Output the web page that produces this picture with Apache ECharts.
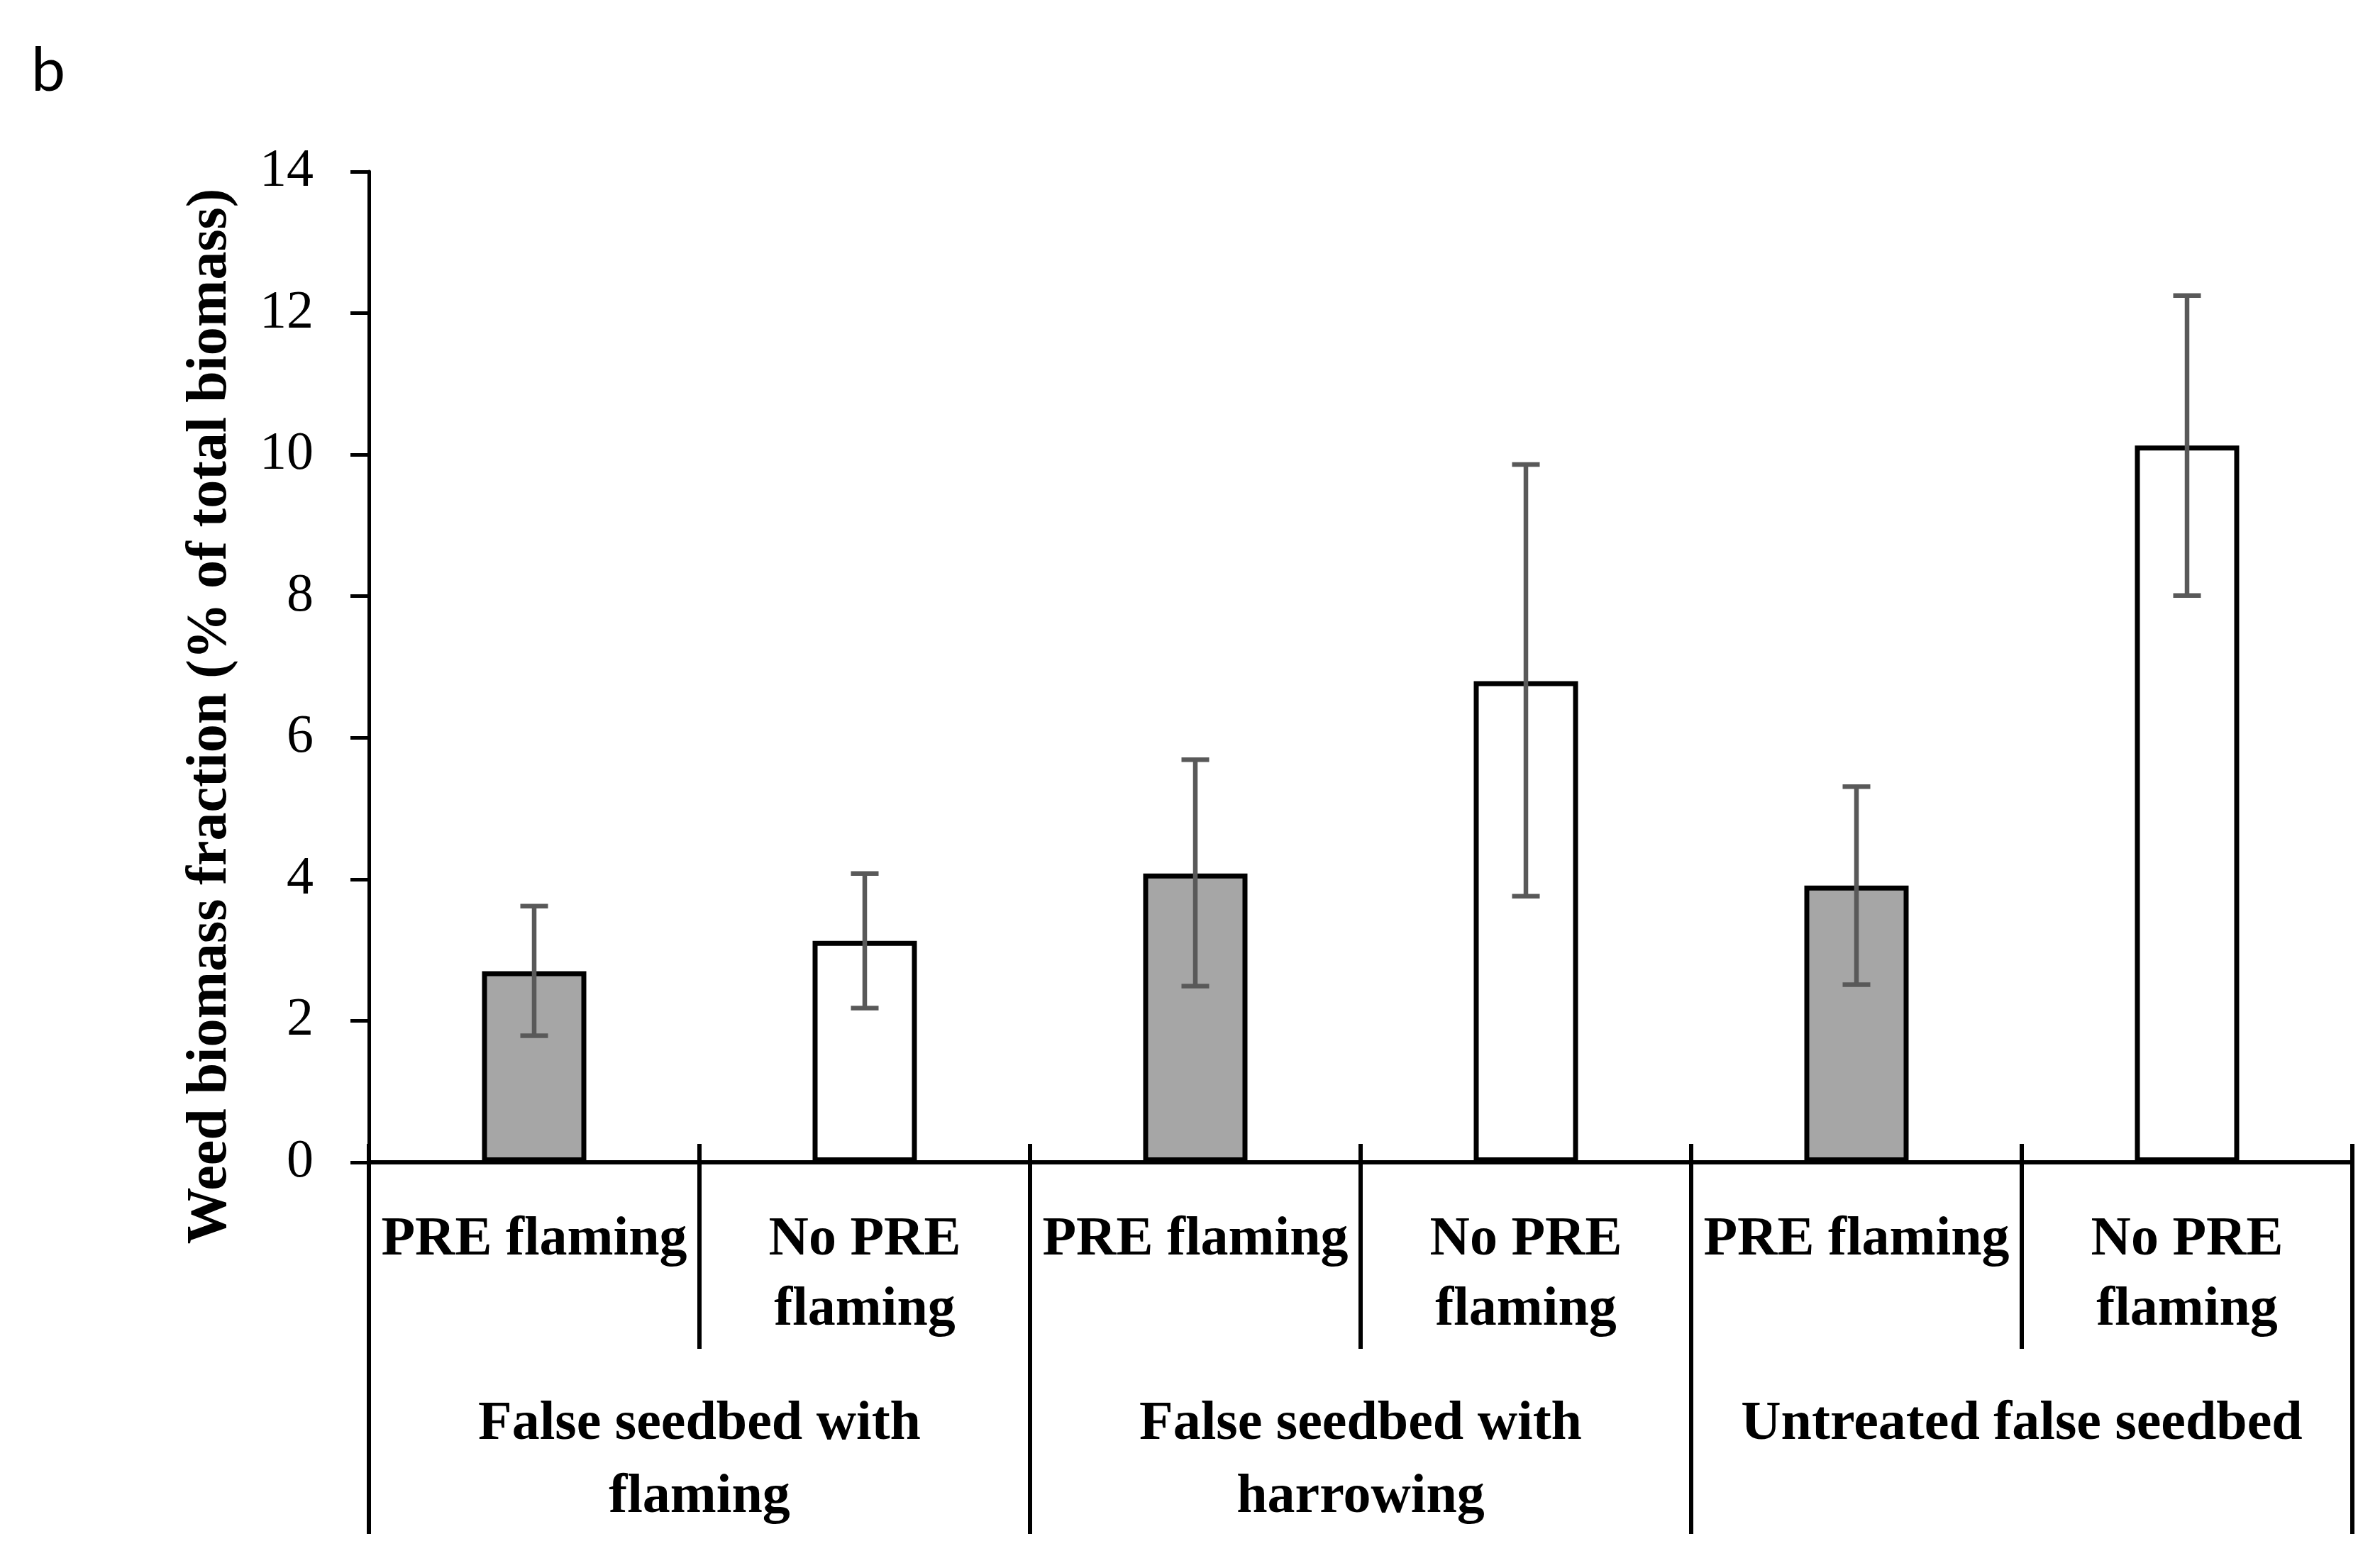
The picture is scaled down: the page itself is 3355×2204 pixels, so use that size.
<!DOCTYPE html>
<html>
<head>
<meta charset="utf-8">
<script src="https://cdn.jsdelivr.net/npm/echarts@6/dist/echarts.min.js"></script>
<style>
html,body{margin:0;padding:0;background:#fff;}
#chart{width:3355px;height:2204px;}
</style>
</head>
<body>
<div id="chart"></div>
<script>
// ---- data ----
var treatments = ['PRE flaming', 'No PRE\nflaming', 'PRE flaming', 'No PRE\nflaming', 'PRE flaming', 'No PRE\nflaming'];
var groups = ['False seedbed with\nflaming', 'False seedbed with\nharrowing', 'Untreated false seedbed'];
var meanValues = [2.70, 3.13, 4.08, 6.80, 3.91, 10.13];
var errHigh = [3.62, 4.08, 5.69, 9.86, 5.31, 12.25];
var errLow = [1.79, 2.18, 2.49, 3.76, 2.51, 8.01];
var isPre = [true, false, true, false, true, false];
var yTicks = [0, 2, 4, 6, 8, 10, 12, 14];
var yTitle = 'Weed biomass fraction (% of total biomass)';
var panelLabel = 'b';

var serif = 'Liberation Serif';
var chart = echarts.init(document.getElementById('chart'), null, {renderer: 'canvas'});

var barData = meanValues.map(function (v, i) {
  return {
    value: v,
    itemStyle: {color: isPre[i] ? '#a6a6a6' : '#ffffff', borderColor: '#000', borderWidth: 7}
  };
});
var errData = meanValues.map(function (v, i) { return [i, errLow[i], errHigh[i]]; });

var option = {
  backgroundColor: '#ffffff',
  animation: false,
  grid: {left: 520, right: 39, top: 242, bottom: 565, containLabel: false},
  xAxis: [
    {
      type: 'category', data: treatments, position: 'bottom',
      axisLine: {show: true, lineStyle: {color: '#000', width: 6}},
      axisTick: {show: true, alignWithLabel: false, inside: false, length: 263, lineStyle: {color: '#000', width: 6}},
      axisLabel: {interval: 0, margin: 60, color: '#000', fontFamily: serif, fontWeight: 'bold', fontSize: 78, lineHeight: 99, align: 'center'},
      splitLine: {show: false}
    },
    {
      type: 'category', data: groups, position: 'bottom',
      axisLine: {show: false},
      axisTick: {show: true, alignWithLabel: false, inside: false, length: 524, lineStyle: {color: '#000', width: 6}},
      axisLabel: {interval: 0, margin: 318, color: '#000', fontFamily: serif, fontWeight: 'bold', fontSize: 78, lineHeight: 103, align: 'center'},
      splitLine: {show: false}
    },
    {
      type: 'category', data: treatments, position: 'bottom',
      axisLine: {show: false},
      axisTick: {show: true, alignWithLabel: false, inside: true, length: 26, lineStyle: {color: '#000', width: 6}},
      axisLabel: {show: false},
      splitLine: {show: false}
    }
  ],
  yAxis: {
    type: 'value', min: yTicks[0], max: yTicks[yTicks.length - 1], interval: 2,
    axisLine: {show: true, lineStyle: {color: '#000', width: 5}},
    axisTick: {show: true, inside: false, length: 26, lineStyle: {color: '#000', width: 5}},
    axisLabel: {margin: 78, color: '#000', fontFamily: serif, fontSize: 76},
    splitLine: {show: false}
  },
  series: [
    {
      type: 'bar', xAxisIndex: 0, data: barData, barWidth: 147, z: 2
    },
    {
      type: 'custom', xAxisIndex: 0, data: errData, z: 5,
      renderItem: function (params, api) {
        var x = api.value(0);
        var lo = api.coord([x, api.value(1)]);
        var hi = api.coord([x, api.value(2)]);
        var hw = 19.5;
        var st = {stroke: '#595959', lineWidth: 6.5};
        return {
          type: 'group',
          children: [
            {type: 'line', shape: {x1: lo[0], y1: lo[1], x2: hi[0], y2: hi[1]}, style: st},
            {type: 'line', shape: {x1: hi[0] - hw, y1: hi[1], x2: hi[0] + hw, y2: hi[1]}, style: st},
            {type: 'line', shape: {x1: lo[0] - hw, y1: lo[1], x2: lo[0] + hw, y2: lo[1]}, style: st}
          ]
        };
      }
    }
  ],
  graphic: [
    {
      type: 'text', x: 297, y: 1010, rotation: Math.PI / 2,
      style: {text: yTitle, fill: '#000', font: 'bold 80px "' + serif + '"', align: 'center', verticalAlign: 'middle'}
    },
    {
      type: 'text', x: 44, y: 100,
      style: {text: panelLabel, fill: '#000', font: '86px Lato', align: 'left', verticalAlign: 'middle'}
    }
  ]
};
chart.setOption(option);
</script>
</body>
</html>
